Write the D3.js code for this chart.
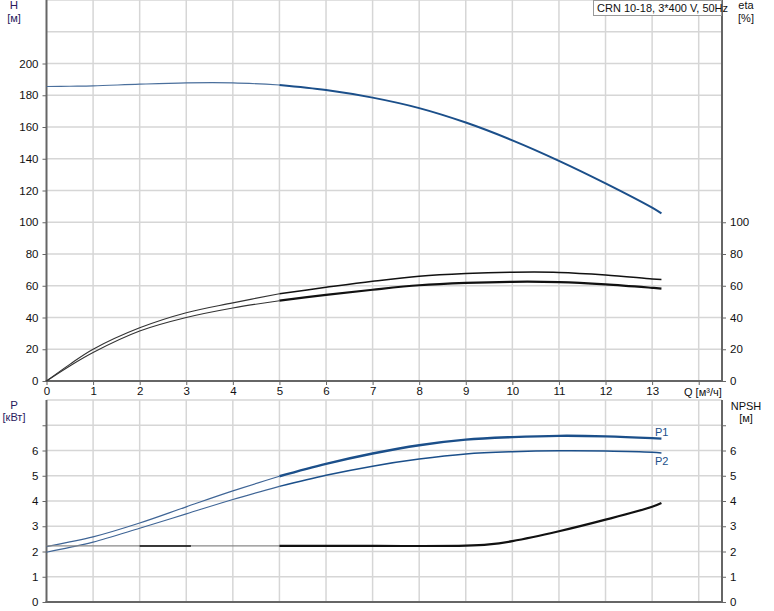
<!DOCTYPE html>
<html><head><meta charset="utf-8">
<script src="https://cdn.jsdelivr.net/npm/d3@7"></script>
<style>body{margin:0;background:#fff}svg{display:block;font-family:"Liberation Sans",Arial,sans-serif}</style>
</head><body><svg id="c" width="774" height="611"></svg>
<script>
// ---- data ----
const qVals   = [0, 0.5, 1, 2, 3, 4, 5, 6, 7, 8, 9, 10, 11, 12, 13, 13.2];
const headH   = [185.5, 185.7, 185.9, 187, 187.8, 187.8, 186.5, 183.3, 178.5, 171.9, 162.8, 151.6, 138.7, 124.5, 109.2, 105.6];
const etaUp   = [0, 10.5, 20, 33.5, 43, 49.2, 55, 59, 62.8, 66, 67.7, 68.5, 68.4, 66.8, 64.3, 63.9];
const etaLow  = [0, 9.5, 18, 31.5, 40, 46, 50.6, 54.3, 57.5, 60.3, 61.8, 62.5, 62.3, 60.9, 58.7, 58.2];
const powerP1 = [2.19, 2.38, 2.58, 3.13, 3.77, 4.4, 4.98, 5.47, 5.88, 6.21, 6.43, 6.53, 6.58, 6.56, 6.49, 6.47];
const powerP2 = [1.97, 2.16, 2.37, 2.92, 3.49, 4.06, 4.58, 5.02, 5.38, 5.66, 5.86, 5.95, 5.99, 5.98, 5.93, 5.9];
const npshQ   = [0, 2, 3, 5, 7, 9, 9.5, 10, 11, 12, 13, 13.2];
const npshV   = [2.22, 2.22, 2.22, 2.22, 2.22, 2.23, 2.28, 2.41, 2.8, 3.26, 3.77, 3.92];
const qTicks  = [0,1,2,3,4,5,6,7,8,9,10,11,12,13];
const hTicks  = [0,20,40,60,80,100,120,140,160,180,200];
const etaTicks= [0,20,40,60,80,100];
const pTicks  = [0,1,2,3,4,5,6];
const title   = "CRN 10-18, 3*400 V, 50Hz";

const svg = d3.select("#c");
const L = 46.5, R = 722;
const x = d3.scaleLinear().domain([0,14.5]).range([L,R]);
const yH = d3.scaleLinear().domain([0,240]).range([381,0]);
const yP = d3.scaleLinear().domain([0,8]).range([602,400]);
const gridC = "#d6d6d6", axC = "#666";

function grid(yScale, vals, y0, y1){
  const g = svg.append("g");
  d3.range(1,15).forEach(q=>g.append("line").attr("x1",x(q)).attr("x2",x(q)).attr("y1",y0).attr("y2",y1)
    .attr("stroke",gridC).attr("stroke-width",1.5));
  vals.forEach(v=>g.append("line").attr("x1",L).attr("x2",R).attr("y1",yScale(v)).attr("y2",yScale(v))
    .attr("stroke",gridC).attr("stroke-width",1.5));
}
grid(yH, d3.range(20,241,20), 0, 381);
grid(yP, d3.range(1,9), 400, 602);

function yAxis(scale, ticks, extra, side, xpos){
  const ax = (side==="left"?d3.axisLeft(scale):d3.axisRight(scale)).tickValues(ticks.concat(extra))
    .tickSize(4).tickPadding(4).tickFormat(d=>ticks.includes(d)?d:"");
  const g = svg.append("g").attr("transform",`translate(${xpos},0)`).call(ax);
  g.select(".domain").remove();
  g.selectAll("line").attr("stroke",axC);
  g.selectAll("text").attr("font-size",11.5).attr("fill","#111").attr("font-family","Liberation Sans, Arial");
  return g;
}
yAxis(yH, hTicks, [], "left", L);
yAxis(yH, etaTicks, [], "right", R);
yAxis(yP, pTicks, [7], "left", L);
yAxis(yP, pTicks, [7], "right", R);

const xa = svg.append("g").attr("transform","translate(0,381)")
  .call(d3.axisBottom(x).tickValues(qTicks.concat([14])).tickSize(4).tickPadding(2).tickFormat(d=>d===14?"":d));
xa.select(".domain").remove();
xa.selectAll("line").attr("stroke",axC);
xa.selectAll("text").attr("font-size",11.5).attr("fill","#111");

[[L,0,L,382],[R,0,R,382],[L-1,381,R+1,381],[L,400,L,603],[R,400,R,603],[L-1,602,R+1,602]].forEach(a=>
  svg.append("line").attr("x1",a[0]).attr("y1",a[1]).attr("x2",a[2]).attr("y2",a[3]).attr("stroke",axC).attr("stroke-width",2));

function drawSeries(qs, vs, yScale, color, thinColor, wThin, wThick, split){
  const pts = qs.map((q,i)=>[q,vs[i]]);
  const line = d3.line().x(d=>x(d[0])).y(d=>yScale(d[1])).curve(d3.curveCatmullRom.alpha(0.5));
  const thin = pts.filter(d=>d[0]<=split), thick = pts.filter(d=>d[0]>=split);
  svg.append("path").attr("d",line(thin)).attr("fill","none").attr("stroke",thinColor).attr("stroke-width",wThin);
  svg.append("path").attr("d",line(thick)).attr("fill","none").attr("stroke",color).attr("stroke-width",wThick);
}
const blue = "#1b4f8a";
drawSeries(qVals, headH, yH, blue, "#4a6f9c", 1.1, 2, 5);
drawSeries(qVals, etaUp, yH, "#111", "#333", 1.1, 1.5, 5);
drawSeries(qVals, etaLow, yH, "#111", "#333", 1.1, 2.2, 5);
drawSeries(qVals, powerP1, yP, blue, "#3f6596", 1.2, 2.4, 5);
drawSeries(qVals, powerP2, yP, blue, "#3f6596", 1.2, 1.5, 5);
drawSeries(npshQ, npshV, yP, "#111", "#888", 1.2, 2.2, 5);
// darker short stretch of the NPSH line as in the reference
svg.append("line").attr("x1",x(2)).attr("x2",x(3.1)).attr("y1",yP(2.22)).attr("y2",yP(2.22)).attr("stroke","#111").attr("stroke-width",1.4);

function txt(t,xp,yp,anchor,color,size){svg.append("text").attr("x",xp).attr("y",yp).attr("text-anchor",anchor||"start")
  .attr("font-size",size||11).attr("fill",color||"#111").text(t);}
txt("H",14,9,"middle","#2a1a5e",11.5);
txt("[м]",14,22,"middle","#2a1a5e");
txt("eta",746,9,"middle");
txt("[%]",746,22,"middle");
txt("P",14,409,"middle","#2a1a5e",11.5);
txt("[кВт]",14,421,"middle","#2a1a5e");
txt("NPSH",746,410,"middle");
txt("[м]",746,422,"middle");
txt("Q [м³/ч]",684,396,"start");
txt("P1",655,436,"start",blue);
txt("P2",655,465,"start",blue);

svg.append("rect").attr("x",593.5).attr("y",0.5).attr("width",128).attr("height",15).attr("fill","#fff").attr("stroke","#999");
txt(title,597,12,"start","#111");
</script></body></html>
